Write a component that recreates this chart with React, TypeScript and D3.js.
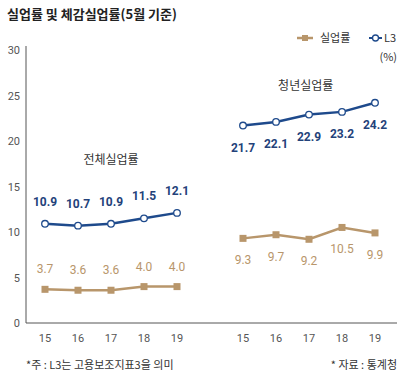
import React from "react";
import * as d3 from "d3";

const years = ["15", "16", "17", "18", "19"];
const groups = ["전체실업률", "청년실업률"];
const totalRate = [3.7, 3.6, 3.6, 4.0, 4.0];
const totalL3 = [10.9, 10.7, 10.9, 11.5, 12.1];
const youthRate = [9.3, 9.7, 9.2, 10.5, 9.9];
const youthL3 = [21.7, 22.1, 22.9, 23.2, 24.2];
const yTicks = [0, 5, 10, 15, 20, 25, 30];

const BLUE = "#1e4a8c";
const BROWN = "#b8966b";
const FONT = "'Noto Sans CJK KR', 'Noto Sans', sans-serif";
const NUMFONT = "Roboto, 'Noto Sans', sans-serif";

export default function App() {
  const W = 410, H = 375;
  const y = d3.scaleLinear().domain([0, 30]).range([323, 50]);
  const x = d3.scaleLinear().domain([0, 10]).range([45, 375]);
  const line = d3.line<[number, number]>().x((d) => d[0]).y((d) => d[1]);

  const series = [
    { vals: totalL3, off: 0, color: BLUE, marker: "circle", dy: -18, bold: true },
    { vals: totalRate, off: 0, color: BROWN, marker: "square", dy: -16, bold: false },
    { vals: youthL3, off: 6, color: BLUE, marker: "circle", dy: 26, bold: true },
    { vals: youthRate, off: 6, color: BROWN, marker: "square", dy: 26, bold: false },
  ];

  return (
    <svg width={W} height={H} style={{ position: "absolute", left: 0, top: 0 }}>
      <rect width={W} height={H} fill="#fff" />
      <text x={7} y={19} fontFamily={FONT} fontSize={13} fontWeight="bold" fill="#222">
        실업률 및 체감실업률(5월 기준)
      </text>
      {/* legend */}
      <line x1={297} x2={313} y1={38} y2={38} stroke={BROWN} strokeWidth={2.5} />
      <rect x={302} y={35} width={6} height={6} fill={BROWN} />
      <text x={320} y={42} fontFamily={FONT} fontSize={11} fill="#333">실업률</text>
      <line x1={369} x2={382} y1={38} y2={38} stroke={BLUE} strokeWidth={2} />
      <circle cx={375.5} cy={38} r={3} fill="#fff" stroke={BLUE} strokeWidth={1.3} />
      <text x={384} y={42} fontFamily={FONT} fontSize={11} fill="#333">L3</text>
      <text x={397} y={61} textAnchor="end" fontFamily={FONT} fontSize={11} fill="#333">(%)</text>
      {/* axes */}
      <line x1={26} x2={26} y1={46} y2={323} stroke="#555" strokeWidth={1} />
      <line x1={26} x2={397} y1={323} y2={323} stroke="#555" strokeWidth={1} />
      {yTicks.map((t) => (
        <text key={t} x={20} y={y(t) + 4} textAnchor="end" fontFamily={NUMFONT} fontSize={11} fill="#555">
          {t}
        </text>
      ))}
      {[0, 6].flatMap((off) =>
        years.map((yr, i) => (
          <text key={off + "-" + yr} x={x(off + i)} y={342} textAnchor="middle" fontFamily={NUMFONT} fontSize={11} fill="#555">
            {yr}
          </text>
        ))
      )}
      <text x={x(2)} y={164} textAnchor="middle" fontFamily={FONT} fontSize={12} fill="#333">{groups[0]}</text>
      <text x={x(7.9)} y={90} textAnchor="middle" fontFamily={FONT} fontSize={12} fill="#333">{groups[1]}</text>
      {series.map((s, si) => {
        const pts: [number, number][] = s.vals.map((v, i) => [x(s.off + i), y(v)]);
        return (
          <g key={si}>
            <path d={line(pts) || ""} fill="none" stroke={s.color} strokeWidth={2.5} />
            {pts.map((p, i) =>
              s.marker === "circle" ? (
                <circle key={i} cx={p[0]} cy={p[1]} r={3.3} fill="#fff" stroke={s.color} strokeWidth={1.3} />
              ) : (
                <rect key={i} x={p[0] - 3.5} y={p[1] - 3.5} width={7} height={7} fill={s.color} />
              )
            )}
            {pts.map((p, i) => (
              <text key={"l" + i} x={p[0]} y={p[1] + s.dy} textAnchor="middle" fontFamily={NUMFONT}
                fontSize={12} fontWeight={s.bold ? "bold" : "normal"} fill={s.color === BLUE ? "#23427a" : BROWN}>
                {s.vals[i].toFixed(1)}
              </text>
            ))}
          </g>
        );
      })}
      <text x={26} y={369} fontFamily={FONT} fontSize={11} fill="#333">*주 : L3는 고용보조지표3을 의미</text>
      <text x={397} y={369} textAnchor="end" fontFamily={FONT} fontSize={11} fill="#333">* 자료 :  통계청</text>
    </svg>
  );
}
